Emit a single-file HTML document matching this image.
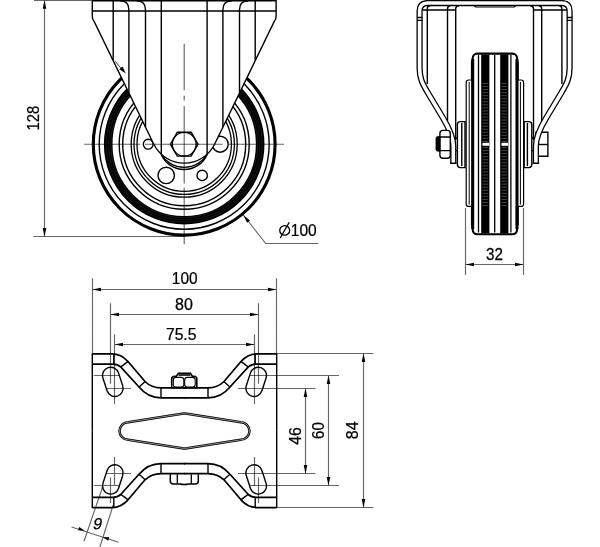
<!DOCTYPE html>
<html><head><meta charset="utf-8"><style>
html,body{margin:0;padding:0;background:#fff;}
svg{display:block;will-change:transform;}
.t{font-family:"Liberation Sans",sans-serif;font-size:16px;fill:#000;stroke:#000;stroke-width:0.25px;}
</style></head><body>
<svg width="600" height="547" viewBox="0 0 600 547">
<g fill="none" stroke="#000">
<circle cx="184.2" cy="144.2" r="90.9" stroke-width="3.1"/>
<circle cx="184.2" cy="144.2" r="85.0" stroke-width="1.4"/>
<circle cx="184.2" cy="144.2" r="76.0" stroke-width="8.6"/>
<circle cx="184.2" cy="144.2" r="73.4" stroke="#444" stroke-width="0.35"/>
<circle cx="184.2" cy="144.2" r="75.6" stroke="#444" stroke-width="0.35"/>
<circle cx="184.2" cy="144.2" r="77.9" stroke="#444" stroke-width="0.35"/>
<circle cx="184.2" cy="144.2" r="65.0" stroke-width="1.4"/>
<circle cx="184.2" cy="144.2" r="61.5" stroke-width="1.4"/>
<circle cx="184.2" cy="144.2" r="53.0" stroke-width="1.3"/>
<circle cx="184.2" cy="144.2" r="50.2" stroke-width="1.3"/>
<circle cx="184.2" cy="144.2" r="47.2" stroke-width="1.3"/>
<circle cx="220.20" cy="144.20" r="8.0" stroke-width="1.4"/>
<circle cx="202.20" cy="175.38" r="5.2" stroke-width="1.4"/>
<circle cx="166.20" cy="175.38" r="8.2" stroke-width="1.4"/>
<circle cx="148.20" cy="144.20" r="4.9" stroke-width="1.4"/>
</g>
<path d="M92.28 -2 L92.28 16 Q92.28 19.5 93.88 21 L153.69 144.05 A33.9 33.9 0 0 0 214.71 144.05 L274.52 21 Q276.12 19.5 276.12 16 L276.12 -2 Z" fill="#fff" stroke="#000" stroke-width="1.4"/>
<path d="M113.20 0 L113.20 60.27M255.20 0 L255.20 60.27" fill="none" stroke="#000" stroke-width="1.4"/>
<path d="M119.90 0.7 Q128.90 0.7 128.90 9.7 L128.90 92.76" fill="none" stroke="#000" stroke-width="1.4"/>
<path d="M248.50 0.7 Q239.50 0.7 239.50 9.7 L239.50 92.76" fill="none" stroke="#000" stroke-width="1.4"/>
<path d="M136.50 0.7 Q145.50 0.7 145.50 9.7 L145.50 127.10" fill="none" stroke="#000" stroke-width="1.4"/>
<path d="M231.90 0.7 Q222.90 0.7 222.90 9.7 L222.90 127.10" fill="none" stroke="#000" stroke-width="1.4"/>
<path d="M161.30 0 L161.30 154.30M207.10 0 L207.10 154.30" fill="none" stroke="#000" stroke-width="1.4"/>
<path d="M92.28 0.7H276.12M92.28 11H276.12" stroke="#000" stroke-width="1.4"/>
<path d="M115 61L122 69.5" fill="none" stroke="#666" stroke-width="1.15" style="mix-blend-mode:multiply"/>
<path d="M125.80 73.60L119.33 69.26L122.53 66.53Z" fill="#000"/>
<path d="M161.20 154.40 A26.95 26.95 0 0 0 207.20 154.40" fill="none" stroke="#000" stroke-width="1.3"/>
<path d="M161.20 154.40 A25.07 25.07 0 0 0 207.20 154.40" fill="none" stroke="#000" stroke-width="1.4"/>
<polygon points="198.00,144.20 191.10,156.15 177.30,156.15 170.40,144.20 177.30,132.25 191.10,132.25" fill="#fff" stroke="#000" stroke-width="1.4"/>
<circle cx="184.2" cy="144.2" r="11.9" fill="none" stroke="#000" stroke-width="1.3"/>
<path d="M84.1 144.2H140.3M145 144.2H222.5M229 144.2H284" fill="none" stroke="#666" stroke-width="1.15" style="mix-blend-mode:multiply"/>
<path d="M184.2 43.7V90.3M184.2 95.8V100.4M184.2 105.9V183.4M184.2 187.7V244.3" fill="none" stroke="#666" stroke-width="1.15" style="mix-blend-mode:multiply"/>
<path d="M34 0.5H92.28M33.5 236.5H184.2M44.5 1V236" fill="none" stroke="#666" stroke-width="1.15" style="mix-blend-mode:multiply"/>
<path d="M44.50 0.30L46.30 8.80L42.70 8.80Z" fill="#000"/>
<path d="M44.50 236.50L42.70 228.00L46.30 228.00Z" fill="#000"/>
<text x="0" y="0" transform="translate(39.00 130.47) rotate(-90) scale(0.93 1)" class="t">128</text>
<path d="M243.3 215L265.8 243.5H318.3" fill="none" stroke="#666" stroke-width="1.15" style="mix-blend-mode:multiply"/>
<path d="M243.30 215.00L249.96 220.58L247.13 222.80Z" fill="#000"/>
<ellipse cx="284.7" cy="230.4" rx="4.95" ry="4.75" fill="none" stroke="#000" stroke-width="1.35"/>
<path d="M280.2 238L289.2 222.4" fill="none" stroke="#000" stroke-width="1.3"/>
<text x="0" y="0" transform="translate(290.80 235.90) rotate(0) scale(0.97 1)" class="t">100</text>
<path d="M427.3 84V9Q427.3 5.7 430 5.7M447.5 121V9Q447.5 5.7 450.2 5.7M455.7 140V9Q455.7 5.7 459 5.7M422 10H455.7" fill="none" stroke="#000" stroke-width="1.4"/>
<path d="M561.9000000000001 84V9Q561.9000000000001 5.7 559.2 5.7M541.7 121V9Q541.7 5.7 539.0 5.7M533.5 140V9Q533.5 5.7 530.2 5.7M567.2 10H533.5" fill="none" stroke="#000" stroke-width="1.4"/>
<path d="M474 5.7L475.5 7H514.5L516 5.7" fill="none" stroke="#000" stroke-width="1.1"/>
<rect x="466.2" y="80" width="57.4" height="126.4" rx="2.5" fill="#fff" stroke="#000" stroke-width="1.2"/>
<path d="M469.2 82V204.5M520.4 82V204.5" fill="none" stroke="#000" stroke-width="1.0"/>
<rect x="472.7" y="53.6" width="44.3" height="180.7" rx="4.5" fill="#fff" stroke="#000" stroke-width="2.1"/>
<path d="M472.7 59V229M517 59V229" fill="none" stroke="#000" stroke-width="3"/>
<rect x="470.9" y="61" width="3" height="20" rx="1.5" fill="#000"/>
<rect x="515.8" y="61" width="3" height="20" rx="1.5" fill="#000"/>
<rect x="470.9" y="206" width="3" height="20" rx="1.5" fill="#000"/>
<rect x="515.8" y="206" width="3" height="20" rx="1.5" fill="#000"/>
<g fill="none" stroke="#000" stroke-width="1.3">
<path d="M478.5 55V232.5"/>
<path d="M494.7 55V232.5"/>
<path d="M510.9 55V232.5"/>
</g>
<rect x="481.2" y="54.5" width="8.2" height="179" fill="#000"/>
<path d="M482.5 83.50h5.6M482.5 86.55h5.6M482.5 89.60h5.6M482.5 92.65h5.6M482.5 95.70h5.6M482.5 98.75h5.6M482.5 101.80h5.6M482.5 104.85h5.6M482.5 107.90h5.6M482.5 110.95h5.6M482.5 114.00h5.6M482.5 117.05h5.6M482.5 120.10h5.6M482.5 123.15h5.6M482.5 126.20h5.6M482.5 129.25h5.6M482.5 132.30h5.6M482.5 135.35h5.6M482.5 138.40h5.6M482.5 141.45h5.6M482.5 144.50h5.6M482.5 147.55h5.6M482.5 150.60h5.6M482.5 153.65h5.6M482.5 156.70h5.6M482.5 159.75h5.6M482.5 162.80h5.6M482.5 165.85h5.6M482.5 168.90h5.6M482.5 171.95h5.6M482.5 175.00h5.6M482.5 178.05h5.6M482.5 181.10h5.6M482.5 184.15h5.6M482.5 187.20h5.6M482.5 190.25h5.6M482.5 193.30h5.6M482.5 196.35h5.6M482.5 199.40h5.6M482.5 202.45h5.6M482.5 205.50h5.6" fill="none" stroke="#444" stroke-width="1"/>
<rect x="500.2" y="54.5" width="8.2" height="179" fill="#000"/>
<path d="M501.5 83.50h5.6M501.5 86.55h5.6M501.5 89.60h5.6M501.5 92.65h5.6M501.5 95.70h5.6M501.5 98.75h5.6M501.5 101.80h5.6M501.5 104.85h5.6M501.5 107.90h5.6M501.5 110.95h5.6M501.5 114.00h5.6M501.5 117.05h5.6M501.5 120.10h5.6M501.5 123.15h5.6M501.5 126.20h5.6M501.5 129.25h5.6M501.5 132.30h5.6M501.5 135.35h5.6M501.5 138.40h5.6M501.5 141.45h5.6M501.5 144.50h5.6M501.5 147.55h5.6M501.5 150.60h5.6M501.5 153.65h5.6M501.5 156.70h5.6M501.5 159.75h5.6M501.5 162.80h5.6M501.5 165.85h5.6M501.5 168.90h5.6M501.5 171.95h5.6M501.5 175.00h5.6M501.5 178.05h5.6M501.5 181.10h5.6M501.5 184.15h5.6M501.5 187.20h5.6M501.5 190.25h5.6M501.5 193.30h5.6M501.5 196.35h5.6M501.5 199.40h5.6M501.5 202.45h5.6M501.5 205.50h5.6" fill="none" stroke="#444" stroke-width="1"/>
<rect x="482.5" y="142.8" width="6.6" height="3" fill="#fff"/>
<rect x="501.5" y="142.8" width="6.6" height="3" fill="#fff"/>
<path d="M465 121.6H460.4Q457.4 121.6 457.4 124.6V164.6Q457.4 167.6 460.4 167.6H465Z" fill="#fff" stroke="#000" stroke-width="1.4"/>
<path d="M524.2 121.6H528.8000000000001Q531.8000000000001 121.6 531.8000000000001 124.6V164.6Q531.8000000000001 167.6 528.8000000000001 167.6H524.2Z" fill="#fff" stroke="#000" stroke-width="1.4"/>
<path d="M461.8 123V166M527.4000000000001 123V166M455.7 138H457.4M455.7 150.6H457.4M533.5 138H531.8000000000001M533.5 150.6H531.8000000000001" fill="none" stroke="#000" stroke-width="1.4"/>
<path d="M536 156.2V132.2H547.9V156.2Z" fill="#fff" stroke="#000" stroke-width="1.4"/>
<path d="M536 144.5H547.9" stroke="#000" stroke-width="1.4"/>
<path d="M453.3 163.2V146C453.3 138 449 128 443 118L428 93C422 83 419.6 78 419.6 68V11Q419.6 3.05 427.5 3.05H561.7Q569.6 3.05 569.6 11V68C569.6 78 567.2 83 561.2 93L546.2 118C540.2 128 535.9000000000001 138 535.9000000000001 146V163.2" fill="none" stroke="#000" stroke-width="6.2"/>
<path d="M453.3 163.2V146C453.3 138 449 128 443 118L428 93C422 83 419.6 78 419.6 68V11Q419.6 3.05 427.5 3.05H561.7Q569.6 3.05 569.6 11V68C569.6 78 567.2 83 561.2 93L546.2 118C540.2 128 535.9000000000001 138 535.9000000000001 146V163.2" fill="none" stroke="#fff" stroke-width="3.6"/>
<path d="M450.1 163.2H456.5M532.7 163.2H539.1M417 17.5H422.2M417 20.4H422.2M567.0 17.5H572.2M567.0 20.4H572.2" fill="none" stroke="#000" stroke-width="1.4"/>
<rect x="439.9" y="130.4" width="10.4" height="27.9" rx="3" fill="#fff" stroke="#000" stroke-width="1.4"/>
<path d="M439.9 137H450.3M439.9 150.6H450.3" stroke="#000" stroke-width="1.4"/>
<path d="M440 136.4H438Q436 136.4 436 138.4V149.2Q436 151.2 438 151.2H440Z" fill="#000" stroke="#000" stroke-width="0.8"/>
<path d="M465.5 208V275M523.5 208V275M466 264.5H523" fill="none" stroke="#666" stroke-width="1.15" style="mix-blend-mode:multiply"/>
<path d="M465.50 264.50L474.00 262.70L474.00 266.30Z" fill="#000"/>
<path d="M523.50 264.50L515.00 266.30L515.00 262.70Z" fill="#000"/>
<text x="0" y="0" transform="translate(486.05 259.50) rotate(0) scale(0.95 1)" class="t">32</text>
<path d="M171.7 387.8V379Q171.7 376.2 174.5 376.2H176.5L178.3 373.3H190.5L192.3 376.2H194Q196.8 376.2 196.8 379V387.8Z" fill="#fff" stroke="#000" stroke-width="1.6"/>
<rect x="173.3" y="377.4" width="10.5" height="9.6" rx="2.6" fill="none" stroke="#000" stroke-width="1.1"/>
<rect x="184.7" y="377.4" width="10.5" height="9.6" rx="2.6" fill="none" stroke="#000" stroke-width="1.1"/>
<path d="M178.5 375H190.3" fill="none" stroke="#000" stroke-width="1.6"/>
<path d="M170.3 474.3V481Q170.3 484 173.3 484H180Q184.3 485 188.6 484H195.3Q198.3 484 198.3 481V474.3" fill="#fff" stroke="#000" stroke-width="1.5"/>
<path d="M177.3 474.3V484M191.3 474.3V484" fill="none" stroke="#000" stroke-width="1.3"/>
<g><path d="M92.3 353.3V430.65" stroke="#000" stroke-width="1.4"/><path d="M92.3 353.8H112C119 353.8 124 357 128 361.5L145 381.5C149.5 386 154 387.8 161 387.8H185.1" fill="none" stroke="#000" stroke-width="1.75"/><path d="M92.3 364H113C116.5 364 118.5 364.8 120.7 366.8L139 387C143.5 392.5 150 397.8 161 397.8H185.1" fill="none" stroke="#000" stroke-width="1.75"/><path d="M113.8 353.8V364M161 387.8V397.8M120.9 366.9L128.1 361.4M139.1 387.1L145.2 381.6" fill="none" stroke="#000" stroke-width="1.4"/><path d="M102.90 377.94 A8.2 8.2 0 0 1 118.50 372.86 L122.70 385.76 A8.2 8.2 0 0 1 107.10 390.84 Z" fill="#fff" stroke="#000" stroke-width="1.4"/></g>
<g transform="matrix(-1 0 0 1 369.0 0)"><path d="M92.3 353.3V430.65" stroke="#000" stroke-width="1.4"/><path d="M92.3 353.8H112C119 353.8 124 357 128 361.5L145 381.5C149.5 386 154 387.8 161 387.8H185.1" fill="none" stroke="#000" stroke-width="1.75"/><path d="M92.3 364H113C116.5 364 118.5 364.8 120.7 366.8L139 387C143.5 392.5 150 397.8 161 397.8H185.1" fill="none" stroke="#000" stroke-width="1.75"/><path d="M113.8 353.8V364M161 387.8V397.8M120.9 366.9L128.1 361.4M139.1 387.1L145.2 381.6" fill="none" stroke="#000" stroke-width="1.4"/><path d="M102.90 377.94 A8.2 8.2 0 0 1 118.50 372.86 L122.70 385.76 A8.2 8.2 0 0 1 107.10 390.84 Z" fill="#fff" stroke="#000" stroke-width="1.4"/></g>
<g transform="matrix(1 0 0 -1 0 861.3)"><path d="M92.3 353.3V430.65" stroke="#000" stroke-width="1.4"/><path d="M92.3 353.8H112C119 353.8 124 357 128 361.5L145 381.5C149.5 386 154 387.8 161 387.8H185.1" fill="none" stroke="#000" stroke-width="1.75"/><path d="M92.3 364H113C116.5 364 118.5 364.8 120.7 366.8L139 387C143.5 392.5 150 397.8 161 397.8H185.1" fill="none" stroke="#000" stroke-width="1.75"/><path d="M113.8 353.8V364M161 387.8V397.8M120.9 366.9L128.1 361.4M139.1 387.1L145.2 381.6" fill="none" stroke="#000" stroke-width="1.4"/><path d="M102.90 377.94 A8.2 8.2 0 0 1 118.50 372.86 L122.70 385.76 A8.2 8.2 0 0 1 107.10 390.84 Z" fill="#fff" stroke="#000" stroke-width="1.4"/></g>
<g transform="matrix(-1 0 0 -1 369.0 861.3)"><path d="M92.3 353.3V430.65" stroke="#000" stroke-width="1.4"/><path d="M92.3 353.8H112C119 353.8 124 357 128 361.5L145 381.5C149.5 386 154 387.8 161 387.8H185.1" fill="none" stroke="#000" stroke-width="1.75"/><path d="M92.3 364H113C116.5 364 118.5 364.8 120.7 366.8L139 387C143.5 392.5 150 397.8 161 397.8H185.1" fill="none" stroke="#000" stroke-width="1.75"/><path d="M113.8 353.8V364M161 387.8V397.8M120.9 366.9L128.1 361.4M139.1 387.1L145.2 381.6" fill="none" stroke="#000" stroke-width="1.4"/><path d="M102.90 377.94 A8.2 8.2 0 0 1 118.50 372.86 L122.70 385.76 A8.2 8.2 0 0 1 107.10 390.84 Z" fill="#fff" stroke="#000" stroke-width="1.4"/></g>
<path d="M128.3 422.2L182 413.8Q184.5 413.4 187 413.8L240.7 422.2A8.8 8.8 0 0 1 240.7 439.8L187 448.2Q184.5 448.6 182 448.2L128.3 439.8A8.8 8.8 0 0 1 128.3 422.2Z" fill="none" stroke="#000" stroke-width="2.5"/>
<path d="M128.3 422.2L182 413.8Q184.5 413.4 187 413.8L240.7 422.2A8.8 8.8 0 0 1 240.7 439.8L187 448.2Q184.5 448.6 182 448.2L128.3 439.8A8.8 8.8 0 0 1 128.3 422.2Z" fill="none" stroke="#fff" stroke-width="0.55"/>
<path d="M92.5 278.3V353M276.5 278.3V353M110.5 303.3V383.8M258.5 303.3V383.8M114.5 334.2V404.3M254.5 334.2V404.3" fill="none" stroke="#666" stroke-width="1.15" style="mix-blend-mode:multiply"/>
<path d="M93 289.5H276M111 314.5H258M115 344.5H254" fill="none" stroke="#666" stroke-width="1.15" style="mix-blend-mode:multiply"/>
<path d="M92.50 289.50L101.00 287.70L101.00 291.30Z" fill="#000"/>
<path d="M276.50 289.50L268.00 291.30L268.00 287.70Z" fill="#000"/>
<path d="M110.50 314.50L119.00 312.70L119.00 316.30Z" fill="#000"/>
<path d="M258.50 314.50L250.00 316.30L250.00 312.70Z" fill="#000"/>
<path d="M114.50 344.50L123.00 342.70L123.00 346.30Z" fill="#000"/>
<path d="M254.50 344.50L246.00 346.30L246.00 342.70Z" fill="#000"/>
<text x="0" y="0" transform="translate(171.82 284.00) rotate(0) scale(0.965 1)" class="t">100</text>
<text x="0" y="0" transform="translate(175.10 309.65) rotate(0) scale(1.0 1)" class="t">80</text>
<text x="0" y="0" transform="translate(165.94 340.07) rotate(0) scale(0.98 1)" class="t">75.5</text>
<path d="M276.7 353.5H373.4M276.7 507.5H373.4M249.6 375.5H339M249.6 485.5H339M238 388.5H315.5M238 473.5H315.5" fill="none" stroke="#666" stroke-width="1.15" style="mix-blend-mode:multiply"/>
<path d="M254.5 457V486M258.5 477.5V503" fill="none" stroke="#666" stroke-width="1.15" style="mix-blend-mode:multiply"/>
<path d="M363.5 354V507M328.5 376V485M305.5 389V473" fill="none" stroke="#666" stroke-width="1.15" style="mix-blend-mode:multiply"/>
<path d="M363.50 353.50L365.30 362.00L361.70 362.00Z" fill="#000"/>
<path d="M363.50 507.50L361.70 499.00L365.30 499.00Z" fill="#000"/>
<path d="M328.50 375.50L330.30 384.00L326.70 384.00Z" fill="#000"/>
<path d="M328.50 485.50L326.70 477.00L330.30 477.00Z" fill="#000"/>
<path d="M305.50 388.50L307.30 397.00L303.70 397.00Z" fill="#000"/>
<path d="M305.50 473.50L303.70 465.00L307.30 465.00Z" fill="#000"/>
<text x="0" y="0" transform="translate(358.20 439.20) rotate(-90) scale(1.0 1)" class="t">84</text>
<text x="0" y="0" transform="translate(323.50 438.97) rotate(-90) scale(0.94 1)" class="t">60</text>
<text x="0" y="0" transform="translate(300.50 444.81) rotate(-90) scale(0.99 1)" class="t">46</text>
<path d="M93.7 375.5H119.4M107 388.5H131M93.7 485.5H119.4M107 473.5H131M114.5 457V486M110.5 477.5V503" fill="none" stroke="#666" stroke-width="1.15" style="mix-blend-mode:multiply"/>
<path d="M102.6 487L84 541.3M113.2 505L99.9 547M71.5 527L118.5 542.2" fill="none" stroke="#666" stroke-width="1.15" style="mix-blend-mode:multiply"/>
<path d="M84.80 530.70L78.06 530.34L79.21 526.93Z" fill="#000"/>
<path d="M102.60 536.90L109.34 537.26L108.19 540.67Z" fill="#000"/>
<text x="0" y="0" transform="translate(92.18 529.00) rotate(2) skewX(-10)" class="t">9</text>
</svg>
</body></html>
